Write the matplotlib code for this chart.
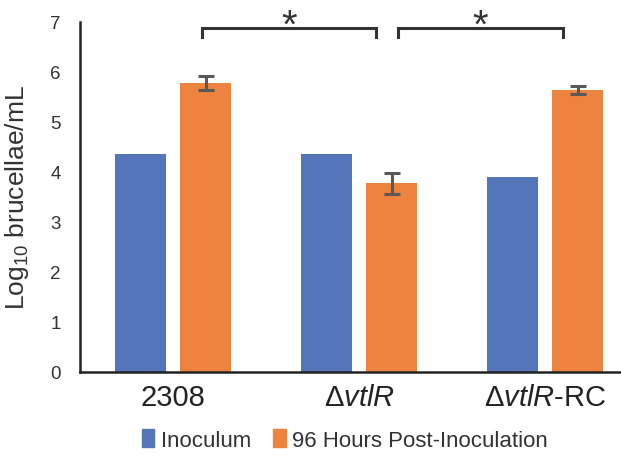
import matplotlib
matplotlib.use("Agg")
import matplotlib.pyplot as plt
from matplotlib.patches import Patch
import numpy as np

categories = ["2308", r"$\Delta$$\it{vtlR}$", r"$\Delta$$\it{vtlR}$-RC"]
inoculum = [4.36, 4.36, 3.91]
post96 = [5.78, 3.78, 5.65]
post96_err = [0.14, 0.21, 0.08]
series_names = ["Inoculum", "96 Hours Post-Inoculation"]
yticks = [0, 1, 2, 3, 4, 5, 6, 7]

plt.rcParams['font.family'] = ['Liberation Sans Narrow', 'Liberation Sans', 'DejaVu Sans']
plt.rcParams['mathtext.fontset'] = 'custom'
plt.rcParams['mathtext.rm'] = 'Liberation Sans'
plt.rcParams['mathtext.it'] = 'Liberation Sans:italic'
plt.rcParams['mathtext.bf'] = 'Liberation Sans:bold'

BLUE = '#5475BA'
ORANGE = '#EC833F'

fig = plt.figure(figsize=(6.21, 4.60), dpi=100)
ax = fig.add_axes([80/621, 1-373/460, (638-80)/621, 350/460])

x = np.arange(len(categories))
w = 0.273
off = 0.175
ax.bar(x - off, inoculum, w, color=BLUE, zorder=2)
ax.bar(x + off, post96, w, color=ORANGE, zorder=2)
ax.errorbar(x + off, post96, yerr=post96_err, fmt='none', ecolor='#595959',
            elinewidth=2.2, capsize=5.5, capthick=2.2, zorder=3)

ax.set_xlim(-0.5, 2.5)
ax.set_ylim(0, 7)
ax.set_yticks(yticks)
ax.set_yticklabels([str(t) for t in yticks], fontsize=13.5, color='#333333')
ax.set_xticks(x)
ax.set_xticklabels(categories, fontsize=21, color='#222222')
ax.tick_params(axis='both', length=0)
ax.tick_params(axis='y', pad=14)
ax.tick_params(axis='x', pad=8)
for s in ['top', 'right']:
    ax.spines[s].set_visible(False)
for s in ['left', 'bottom']:
    ax.spines[s].set_linewidth(1.8)
    ax.spines[s].set_color('#222222')

ax.set_ylabel(r"Log$_{10}$ brucellae/mL", fontsize=19, color='#333333', labelpad=14,
              family='Liberation Sans')

# significance brackets
brackets = [(0.155, 1.092), (1.209, 2.099)]
ytop, ybot = 6.89, 6.71
for (a, b) in brackets:
    ax.plot([a, a, b, b], [ybot, ytop, ytop, ybot], color='#333333', lw=2.2,
            clip_on=False, zorder=4, solid_joinstyle='miter')
    ax.text((a + b) / 2, 6.70, "*", ha='center', va='baseline', fontsize=29,
            color='#333333', family='Liberation Sans', clip_on=False)

handles = [Patch(color=BLUE), Patch(color=ORANGE)]
fig.legend(handles, series_names, loc='center', bbox_to_anchor=(345/621, 1-441/460),
           ncol=2, frameon=False, fontsize=16, handlelength=0.55, handleheight=0.85,
           handletextpad=0.3, columnspacing=1.0, labelcolor='#333333')

fig.savefig("out.png", dpi=100)
